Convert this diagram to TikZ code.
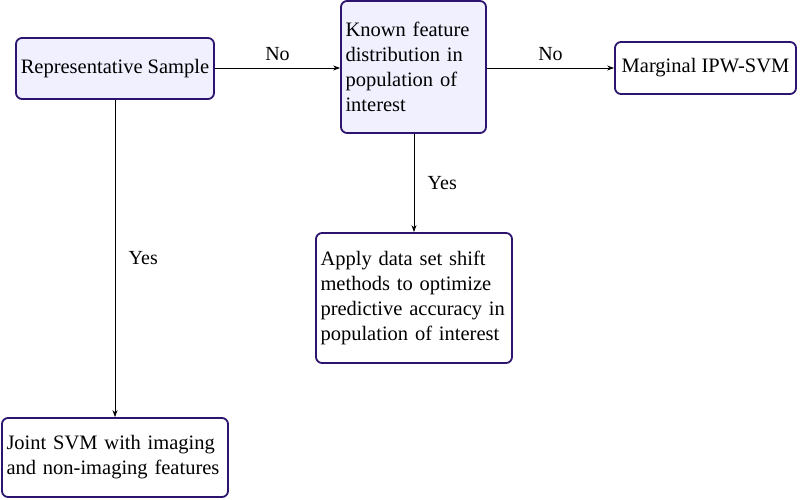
\documentclass[tikz,border=0pt]{standalone}
\usepackage{fontspec}
\setmainfont{Liberation Serif}
\usetikzlibrary{arrows.meta}
\definecolor{boxline}{RGB}{45,20,110}
\definecolor{boxfill}{RGB}{240,240,255}
\tikzset{
  flowbox/.style={draw=boxline, line width=1.8pt, rounded corners=6pt, inner sep=4.5pt, font=\fontsize{20.5}{25}\selectfont, align=left},
  filled/.style={fill=boxfill},
  conn/.style={-{Stealth[length=7pt,width=5pt]}, line width=0.8pt},
  lbl/.style={font=\fontsize{20}{24}\selectfont}
}
\begin{document}
\begin{tikzpicture}[x=1pt,y=-1pt]
\useasboundingbox (0,0) rectangle (800,500);
\node[flowbox, filled, minimum width=198pt, minimum height=61pt, inner sep=0pt] (rep) at (115,68.5) {Representative Sample};
\node[flowbox, filled, minimum width=145pt, minimum height=132pt, text width=136pt] (known) at (413.5,67) {Known feature\\distribution in\\population of\\interest};
\node[flowbox, minimum width=181pt, minimum height=52pt] (marg) at (705.5,68) {Marginal IPW-SVM};
\node[flowbox, minimum width=196pt, minimum height=130pt, text width=187pt] (apply) at (414,298) {Apply data set shift\\methods to optimize\\predictive accuracy in\\population of interest};
\node[flowbox, minimum width=226pt, minimum height=79pt, text width=217pt] (joint) at (115,457.5) {Joint SVM with imaging\\and non-imaging features};
\draw[conn] (rep.east |- 0,68) -- (known.west |- 0,68) node[lbl, midway, above=4pt] (no1) {No};
\draw[conn] (known.east |- 0,68) -- (marg.west |- 0,68) node[lbl, midway, above=4pt] (no2) {No};
\draw[conn] (known.south -| 414,0) -- (apply.north -| 414,0) node[lbl, midway, right=10pt] (yes1) {Yes};
\draw[conn] (rep.south) -- (joint.north) node[lbl, midway, right=10pt] (yes2) {Yes};
\end{tikzpicture}
\end{document}
